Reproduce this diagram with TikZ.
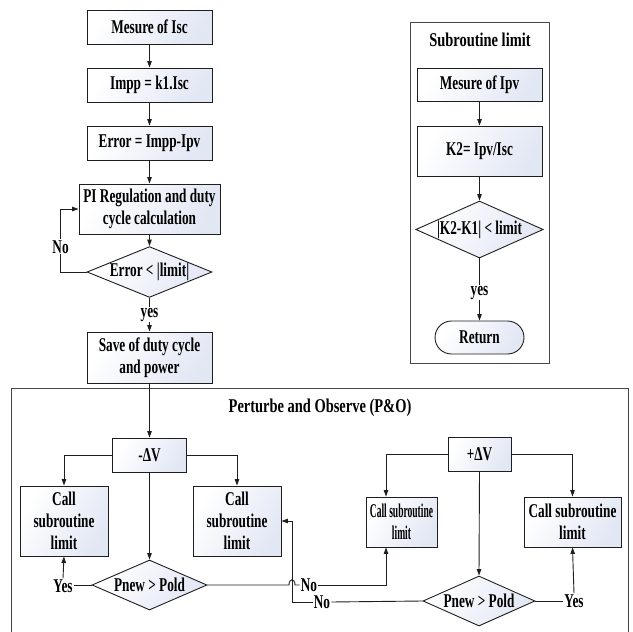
\documentclass[tikz,border=0pt]{standalone}
\usepackage{fontspec}
\usepackage{graphicx}
\setmainfont{Liberation Serif}[FakeStretch=0.68]
\usetikzlibrary{shapes.geometric,shapes.misc,arrows.meta,calc}
\definecolor{boxb}{RGB}{226,231,244}
\definecolor{linec}{RGB}{30,30,30}
\definecolor{framec}{RGB}{70,70,70}
\newcommand{\narrowtxt}[1]{\scalebox{0.72}[1]{#1}}
\newcommand{\widetxt}[1]{\scalebox{1.09}[1]{#1}}
\begin{document}
\begin{tikzpicture}[x=1pt,y=-1pt,
  font=\fontsize{19.5}{22}\selectfont\bfseries,
  box/.style={draw=linec, line width=0.9pt, left color=white, right color=boxb,
    shading angle=60, align=center, inner sep=0pt},
  dia/.style={diamond, draw=linec, line width=0.9pt, left color=white, right color=boxb,
    shading angle=60, aspect=2.4, inner sep=0pt},
  frm/.style={draw=framec, line width=0.9pt, inner sep=0pt},
  arr/.style={draw=linec, line width=0.9pt, -{Triangle[length=6.5pt,width=4.5pt]}},
  ln/.style={draw=linec, line width=0.9pt},
  lbl/.style={fill=white, inner sep=1pt}]
\useasboundingbox (0,0) rectangle (633,632);

% ---- main column
\node[box, minimum width=125, minimum height=34] (m1) at (149.5,27) {Mesure of Isc};
\node[box, minimum width=125, minimum height=34] (m2) at (149.5,85) {Impp = k1.Isc};
\node[box, minimum width=125, minimum height=34] (m3) at (149.5,143) {Error = Impp-Ipv};
\node[box, minimum width=141, minimum height=50] (m4) at (149.5,209) {PI Regulation and duty\\cycle calculation};
\node[dia, minimum width=125, minimum height=50] (d1) at (149.5,272) {Error < |limit|};
\node[box, minimum width=125, minimum height=51] (m5) at (149.5,357.5) {Save of duty cycle\\and power};

\draw[arr] (m1) -- (m2);
\draw[arr] (m2) -- (m3);
\draw[arr] (m3) -- (m4);
\draw[arr] (m4) -- (d1);
\draw[arr] (d1.west) -- ++(-26,0) coordinate (lp) -- node[lbl,pos=0.4]{No} (lp |- m4.west) -- (m4.west);
\draw[arr] (d1.south) -- node[lbl]{yes} (m5.north);

% ---- subroutine
\node[frm, minimum width=139, minimum height=341] (sub) at (479.5,192.5) {};
\node (subt) at (480,40) {\widetxt{Subroutine limit}};
\node[box, minimum width=125, minimum height=33] (s1) at (479.5,84.5) {Mesure of Ipv};
\node[box, minimum width=125, minimum height=50] (s2) at (479.5,151) {K2= Ipv/Isc};
\node[dia, minimum width=125, minimum height=57] (sd) at (479.5,229.5) {|K2-K1| < limit};
\node[box, rounded rectangle, minimum width=89, minimum height=33] (ret) at (479.5,337.5) {Return};
\draw[arr] (s1) -- (s2);
\draw[arr] (s2) -- (sd);
\draw[arr] (sd.south) -- node[lbl,pos=0.55]{yes} (ret.north);

% ---- P&O
\node[frm, minimum width=617, minimum height=244] (po) at (319.5,510) {};
\node (pot) at (320,408) {\widetxt{Perturbe and Observe (P\&O)}};

\node[box, minimum width=74, minimum height=34] (dv1) at (149.5,455) {-ΔV};
\node[box, minimum width=88, minimum height=70] (c1) at (64,521) {Call\\subroutine\\limit};
\node[box, minimum width=88, minimum height=70] (c2) at (237,521) {Call\\subroutine\\limit};
\node[dia, minimum width=115, minimum height=50] (p1) at (149.5,585) {Pnew > Pold};

\node[box, minimum width=63, minimum height=34] (dv2) at (479.5,454) {+ΔV};
\node[box, minimum width=71, minimum height=50] (c3) at (401.5,522) {\narrowtxt{Call subroutine}\\\narrowtxt{limit}};
\node[box, minimum width=97, minimum height=50] (c4) at (572.5,522) {Call subroutine\\limit};
\node[dia, minimum width=112, minimum height=50] (p2) at (479,601) {Pnew > Pold};

\draw[arr] (m5.south) -- (dv1.north);
\draw[arr] (dv1.west) -| (c1.north);
\draw[arr] (dv1.east) -| (c2.north);
\draw[arr] (dv1.south) -- (p1.north);

\node[inner sep=1pt] (y1) at (63,586) {Yes};
\draw[ln] (p1.west) -- (y1.east |- p1.west);
\draw[arr] (y1.north) -- (c1.south);

\coordinate (c3in) at ([xshift=-15.5pt]c3.south);
\coordinate (c3top) at ([xshift=-15.5pt]c3.north);
\node[inner sep=1pt] (n1) at (309,585) {No};
\coordinate (h1) at (289,585);
\coordinate (h2) at (295,585);
\draw[ln] (p1.east) -- (h1) .. controls ([yshift=7pt]h1) and ([yshift=7pt]h2) .. (h2) -- (n1.west);
\draw[arr] (n1.east) -| (c3in);

\draw[arr] (dv2.west) -| (c3top);
\draw[arr] (dv2.east) -| (c4.north);
\draw[arr] (dv2.south) -- (p2.north);

\node[inner sep=1pt] (y2) at (574,601) {Yes};
\draw[ln] (p2.east) -- (y2.west);
\draw[arr] (y2.north) -- (c4.south);

\node[inner sep=1pt] (n2) at (322,602) {No};
\coordinate (v1) at (292,602);
\draw[ln] (p2.west) -- (n2.east);
\draw[arr] (n2.west) -- (v1) |- (c2.east);
\end{tikzpicture}
\end{document}
